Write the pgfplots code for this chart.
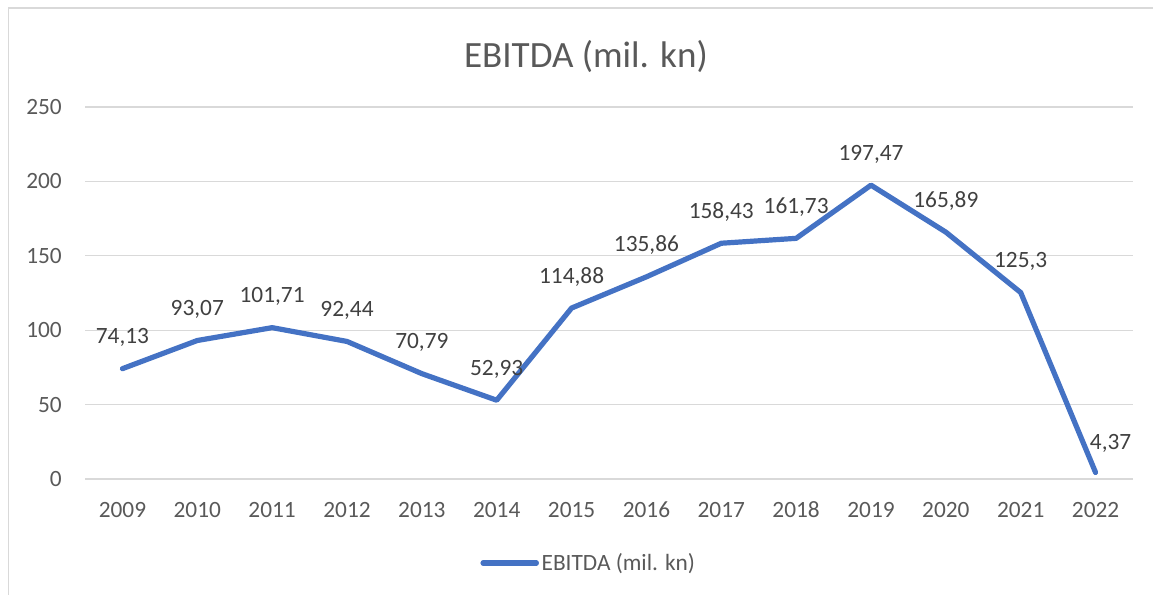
\documentclass[border=0pt]{standalone}
\usepackage{pgfplots}
\pgfplotsset{compat=1.18}
\usepackage{fontspec}
\setmainfont{Carlito}
\definecolor{txt}{HTML}{595959}
\definecolor{lbl}{HTML}{404040}
\definecolor{gridc}{HTML}{D9D9D9}
\definecolor{lineblue}{HTML}{4472C4}
\begin{document}
\begin{tikzpicture}[x=1pt,y=1pt]
\path[use as bounding box] (0,0) rectangle (864.75,446.25);
\draw[gridc, line width=1.2pt] (6.3,-1) -- (6.3,440.1) -- (866,440.1);
\node[txt, font=\fontsize{27.8}{33}\selectfont] at (439.5,404) {EBITDA (mil. kn)};
\begin{axis}[
  at={(63.75pt,87pt)}, anchor=south west,
  scale only axis, width=786pt, height=279pt,
  xmin=-0.5, xmax=13.5, ymin=0, ymax=250,
  xtick=data,
  xticklabels={2009,2010,2011,2012,2013,2014,2015,2016,2017,2018,2019,2020,2021,2022},
  ytick={0,50,100,150,200,250},
  ymajorgrids, grid style={gridc, line width=1pt},
  axis line style={draw=none}, tick style={draw=none},
  clip=false,
  /pgf/number format/assume math mode=true,
  ticklabel style={font=\fontsize{17.5}{21}\selectfont, text=txt},
  xticklabel style={anchor=base, inner sep=0pt, yshift=-29.25pt},
  yticklabel style={anchor=east, inner sep=0pt, xshift=-17.25pt},
  legend style={at={(0.481,-0.226)}, anchor=center, draw=none, fill=none,
    font=\fontsize{17.5}{21}\selectfont, text=txt, inner sep=0pt,
    /tikz/every even column/.append style={column sep=0pt}},
  legend image code/.code={\draw[#1, line cap=round] (0pt,0pt) -- (40pt,0pt);},
]
\addplot[lineblue, line width=3.9pt, line join=round, line cap=round] table {
x y
0 74.13
1 93.07
2 101.71
3 92.44
4 70.79
5 52.93
6 114.88
7 135.86
8 158.43
9 161.73
10 197.47
11 165.89
12 125.3
13 4.37
};
\addlegendentry{EBITDA (mil. kn)}
\addplot[draw=none, forget plot, point meta=explicit symbolic,
  nodes near coords,
  every node near coord/.style={anchor=base, inner sep=0pt, yshift=18.75pt,
     font=\fontsize{17.5}{21}\selectfont, text=lbl}] table[meta=lab] {
x y lab
0 74.13 74,13
1 93.07 93,07
2 101.71 101,71
3 92.44 92,44
4 70.79 70,79
5 52.93 52,93
6 114.88 114,88
7 135.86 135,86
8 158.43 158,43
9 161.73 161,73
10 197.47 197,47
11 165.89 165,89
12 125.3 125,3
};
\addplot[draw=none, forget plot, point meta=explicit symbolic,
  nodes near coords,
  every node near coord/.style={anchor=base, inner sep=0pt, yshift=17.5pt, xshift=11.25pt,
     font=\fontsize{17.5}{21}\selectfont, text=lbl}] table[meta=lab] {
x y lab
13 4.37 4,37
};
\end{axis}
\end{tikzpicture}
\end{document}
